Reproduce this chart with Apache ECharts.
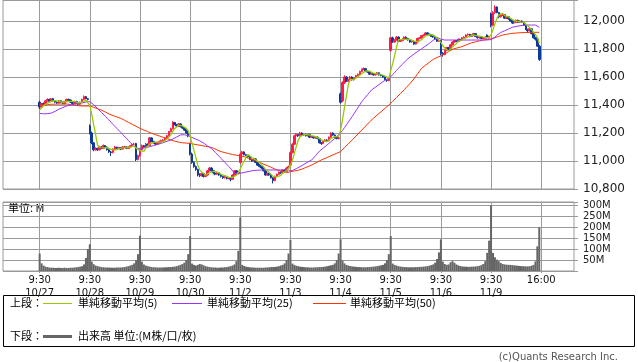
<!DOCTYPE html>
<html><head><meta charset="utf-8">
<script src="https://cdn.jsdelivr.net/npm/echarts@6/dist/echarts.min.js"></script>
<style>html,body{margin:0;padding:0;background:#fff}#c{width:638px;height:362px}</style>
</head><body><div id="c"></div>
<script>
const dayLabels = ['10/27','10/28','10/29','10/30','11/2','11/3','11/4','11/5','11/6','11/9'];
const openTimeLabel = '9:30';
const closeTimeLabel = '16:00';

const open = [
11420,11385,11410,11400,11430,11440,11425,11445,11430,11420,11415,11430,11420,11410,11425,11440,11435,11420,11410,11425,11415,11405,11420,11440,11460,11445,
11250,11200,11130,11080,11090,11080,11100,11090,11110,11100,11080,11065,11060,11085,11100,11090,11095,11085,11100,11100,11090,11100,11110,11120,11125,11010,
11040,11080,11110,11100,11120,11110,11165,11140,11130,11120,11130,11140,11145,11150,11165,11180,11210,11230,11275,11260,11250,11265,11245,11235,11220,11200,
11120,11050,10990,10960,10940,10900,10895,10910,10890,10900,10930,10950,10930,10915,10905,10915,10900,10890,10880,10890,10875,10880,10870,10900,10930,10910,
10990,11050,11065,11045,11040,11030,11010,11000,11015,10990,10970,10960,10950,10930,10900,10910,10900,10880,10860,10890,10905,10920,10915,10935,10925,10950,
10970,11060,11120,11180,11190,11180,11200,11185,11190,11180,11190,11170,11175,11165,11170,11160,11130,11125,11140,11150,11145,11170,11200,11185,11170,11160,
11480,11430,11560,11600,11570,11580,11600,11580,11595,11610,11620,11640,11655,11660,11640,11635,11620,11625,11615,11620,11630,11615,11610,11600,11580,11575,
11790,11880,11850,11865,11885,11855,11860,11870,11885,11875,11865,11850,11855,11835,11850,11875,11880,11895,11900,11915,11905,11900,11890,11885,11870,11855,
11860,11770,11760,11790,11810,11795,11830,11850,11860,11855,11870,11865,11880,11885,11900,11905,11890,11900,11910,11890,11880,11885,11875,11880,11900,11880,
12050,11970,12060,12100,12060,12030,12040,12045,12020,12030,12015,12000,11985,11990,12005,11990,12000,11990,11970,11940,11930,11945,11910,11880,11870,11820
];
const close = [
11385,11410,11400,11430,11440,11425,11445,11430,11420,11415,11430,11420,11410,11425,11440,11435,11420,11410,11425,11415,11405,11420,11440,11460,11445,11440,
11200,11130,11080,11090,11080,11100,11090,11110,11100,11080,11065,11060,11085,11100,11090,11095,11085,11100,11100,11090,11100,11110,11120,11120,11010,11040,
11080,11110,11100,11120,11110,11165,11140,11130,11120,11130,11140,11145,11150,11165,11180,11210,11230,11275,11260,11250,11265,11245,11235,11220,11200,11180,
11050,10990,10960,10940,10900,10895,10910,10890,10900,10930,10950,10930,10915,10905,10915,10900,10890,10880,10890,10875,10880,10870,10900,10930,10910,10920,
11050,11065,11045,11040,11030,11010,11000,11015,10990,10970,10960,10950,10930,10900,10910,10900,10880,10860,10890,10905,10920,10915,10935,10925,10950,10960,
11060,11120,11180,11190,11180,11200,11185,11190,11180,11190,11170,11175,11165,11170,11160,11130,11125,11140,11150,11145,11170,11200,11185,11170,11160,11165,
11420,11560,11600,11570,11580,11600,11580,11595,11610,11620,11640,11655,11660,11640,11635,11620,11625,11615,11620,11630,11615,11610,11600,11580,11575,11590,
11880,11850,11865,11885,11855,11860,11870,11885,11875,11865,11850,11855,11835,11850,11875,11880,11895,11900,11915,11905,11900,11890,11885,11870,11855,11860,
11770,11760,11790,11810,11795,11830,11850,11860,11855,11870,11865,11880,11885,11900,11905,11890,11900,11910,11890,11880,11885,11875,11880,11885,11880,11890,
11970,12060,12100,12060,12030,12040,12045,12020,12030,12015,12000,11985,11990,12005,11990,12000,11990,11970,11940,11930,11945,11910,11880,11870,11820,11725
];
const low = [
11370,11380,11395,11395,11425,11420,11420,11425,11415,11408,11410,11415,11405,11405,11420,11430,11415,11402,11405,11410,11400,11400,11415,11435,11440,11432,
11190,11120,11070,11075,11072,11075,11085,11085,11095,11075,11058,11035,11055,11080,11085,11085,11078,11082,11094,11085,11085,11096,11105,11112,11000,11005,
11030,11075,11095,11095,11105,11105,11135,11125,11112,11115,11125,11135,11140,11145,11160,11175,11205,11225,11255,11245,11245,11240,11230,11215,11195,11170,
11040,10980,10952,10930,10890,10885,10890,10882,10885,10895,10925,10925,10905,10898,10900,10895,10882,10872,10875,10868,10870,10855,10865,10895,10905,10905,
10980,11040,11040,11035,11022,11005,10995,10995,10985,10965,10955,10945,10925,10895,10895,10895,10875,10840,10855,10885,10900,10908,10910,10920,10920,10945,
10960,11055,11115,11175,11172,11175,11180,11180,11175,11175,11165,11165,11160,11160,11155,11125,11115,11120,11135,11140,11140,11165,11180,11165,11155,11155,
11410,11420,11550,11565,11565,11575,11575,11575,11590,11605,11615,11635,11650,11635,11630,11615,11615,11610,11610,11615,11610,11605,11595,11575,11565,11570,
11780,11845,11845,11860,11850,11850,11855,11865,11870,11860,11845,11845,11830,11832,11845,11870,11875,11890,11895,11900,11895,11885,11880,11865,11850,11850,
11755,11745,11755,11785,11790,11790,11825,11845,11850,11850,11860,11860,11875,11880,11895,11885,11885,11895,11885,11875,11875,11870,11870,11875,11875,11875,
11955,11962,12050,12055,12020,12025,12035,12015,12015,12010,11995,11980,11978,11985,11985,11985,11985,11965,11935,11920,11925,11905,11875,11860,11815,11715
];
const high = [
11430,11415,11418,11435,11448,11445,11450,11450,11435,11425,11435,11432,11425,11430,11445,11445,11440,11425,11430,11430,11420,11425,11445,11468,11462,11450,
11262,11210,11135,11098,11095,11108,11105,11118,11112,11104,11085,11072,11090,11108,11102,11100,11100,11106,11108,11104,11105,11115,11125,11130,11130,11045,
11085,11118,11115,11128,11125,11172,11170,11145,11135,11136,11146,11152,11156,11170,11186,11215,11238,11285,11280,11265,11270,11268,11250,11240,11225,11205,
11130,11060,10998,10968,10945,10912,10918,10915,10905,10935,10958,10955,10935,10920,10920,10920,10905,10895,10895,10892,10885,10885,10905,10935,10935,10925,
11060,11072,11070,11052,11045,11035,11018,11022,11020,10995,10978,10966,10955,10935,10918,10915,10905,10885,10895,10910,10925,10926,10940,10940,10955,10968,
11070,11128,11188,11198,11195,11208,11205,11196,11195,11196,11195,11180,11180,11175,11175,11165,11135,11145,11156,11155,11175,11205,11205,11190,11175,11170,
11490,11570,11612,11605,11588,11608,11605,11600,11615,11625,11645,11660,11668,11662,11645,11640,11630,11628,11625,11635,11632,11620,11615,11605,11585,11595,
11885,11888,11870,11892,11890,11865,11875,11890,11890,11880,11870,11860,11860,11855,11880,11885,11900,11905,11920,11920,11910,11905,11895,11890,11875,11865,
11865,11778,11795,11815,11815,11835,11855,11865,11865,11875,11872,11885,11890,11905,11910,11908,11905,11915,11912,11895,11890,11888,11885,11890,11905,11895,
12060,12070,12112,12105,12065,12048,12052,12050,12035,12035,12020,12005,11995,12010,12010,12005,12005,11995,11975,11945,11950,11948,11915,11888,11875,11830
];
// volume, millions
const volume = [
80,35,25,20,18,16,15,15,14,14,15,14,14,15,14,14,15,15,16,17,18,20,22,30,60,100,
122,43,31,25,22,20,18,17,16,16,16,15,15,15,16,16,16,17,18,20,22,25,28,35,50,77,
162,43,30,25,22,20,18,17,17,16,16,16,16,17,17,18,18,19,20,22,25,28,32,38,50,77,
160,34,28,25,28,32,30,26,22,20,18,17,16,16,15,15,16,16,17,18,20,22,25,30,45,92,
245,28,23,20,18,17,16,16,15,15,15,15,15,16,16,17,18,18,19,20,22,25,28,35,50,80,
142,34,28,24,22,20,19,18,17,17,16,16,16,17,17,18,18,19,20,22,24,26,28,35,50,80,
145,48,35,28,25,23,21,20,19,18,18,17,17,17,18,18,19,20,21,22,24,26,28,35,50,77,
160,34,28,25,22,20,19,18,18,17,17,17,17,18,18,19,19,20,21,22,24,27,30,38,55,85,
145,43,32,28,30,40,45,38,30,26,23,21,20,20,19,19,20,20,21,22,24,27,32,45,83,139,
300,83,63,52,45,37,32,30,29,28,28,27,26,25,24,23,22,22,21,21,22,24,28,44,113,200
];
const ma5 = [
11365,11380,11395,11405,11413,11421,11428,11434,11432,11427,11428,11423,11419,11420,11425,11426,11426,11428,11426,11421,11415,11415,11421,11428,11434,11441,
11397,11335,11259,11188,11116,11096,11088,11094,11096,11096,11089,11083,11078,11078,11080,11086,11091,11094,11094,11094,11095,11100,11104,11108,11092,11080,
11074,11072,11068,11090,11104,11121,11127,11133,11133,11137,11132,11133,11137,11146,11156,11170,11187,11212,11231,11245,11256,11259,11251,11243,11233,11216,
11177,11128,11076,11024,10968,10937,10921,10907,10899,10905,10916,10920,10925,10926,10923,10913,10905,10898,10895,10887,10883,10879,10883,10891,10898,10906,
10942,10975,10998,11024,11046,11038,11025,11019,11009,10997,10987,10977,10960,10942,10930,10918,10904,10890,10888,10887,10891,10898,10913,10920,10929,10937,
10966,11003,11054,11102,11146,11174,11187,11189,11187,11189,11183,11181,11176,11174,11168,11160,11150,11145,11141,11138,11146,11161,11170,11174,11177,11176,
11220,11295,11381,11463,11546,11582,11586,11585,11593,11601,11609,11624,11637,11643,11646,11642,11636,11627,11623,11622,11621,11618,11615,11607,11596,11591,
11645,11695,11752,11814,11867,11863,11867,11871,11869,11871,11869,11866,11856,11851,11853,11859,11867,11880,11893,11899,11903,11902,11899,11890,11880,11872,
11848,11823,11807,11798,11785,11797,11815,11829,11838,11853,11860,11866,11871,11880,11887,11892,11896,11901,11899,11894,11893,11888,11882,11881,11881,11882,
11901,11937,11980,12016,12044,12058,12055,12039,12033,12030,12022,12010,12004,11999,11994,11994,11995,11991,11978,11966,11955,11939,11921,11907,11885,11841
];
const ma25 = [
11340,11338,11337,11337,11338,11340,11342,11348,11355,11362,11370,11376,11382,11388,11393,11397,11400,11402,11405,11407,11410,11412,11415,11418,11421,11423,
11424,11415,11402,11390,11376,11362,11348,11334,11320,11305,11291,11277,11262,11248,11233,11219,11205,11190,11176,11162,11147,11132,11117,11102,11096,11090,
11090,11090,11092,11095,11098,11102,11106,11110,11114,11118,11122,11126,11131,11136,11140,11145,11150,11157,11164,11171,11178,11186,11188,11188,11186,11180,
11174,11168,11162,11156,11150,11144,11138,11128,11118,11108,11098,11090,11076,11062,11048,11034,11019,11005,10990,10976,10962,10948,10930,10912,10912,10912,
10912,10915,10918,10921,10924,10927,10931,10932,10933,10934,10935,10936,10936,10936,10936,10936,10936,10936,10936,10936,10936,10936,10936,10936,10936,10935,
10933,10931,10938,10945,10952,10960,10968,10976,10984,10992,11000,11007,11022,11038,11054,11070,11081,11092,11104,11115,11126,11138,11150,11162,11174,11186,
11198,11218,11238,11258,11278,11298,11317,11338,11360,11381,11402,11424,11441,11457,11474,11490,11507,11517,11527,11537,11547,11557,11567,11576,11585,11594,
11602,11617,11632,11647,11662,11676,11690,11704,11719,11733,11743,11753,11763,11773,11783,11793,11802,11812,11821,11831,11840,11851,11862,11872,11883,11876,
11870,11864,11864,11864,11864,11864,11864,11864,11864,11864,11864,11864,11864,11864,11864,11864,11864,11864,11864,11864,11864,11864,11864,11864,11865,11866,
11867,11868,11883,11898,11912,11918,11924,11930,11936,11942,11949,11955,11958,11961,11964,11966,11968,11970,11971,11971,11971,11971,11971,11971,11965,11955
];
const ma50 = [
11400,11401,11402,11403,11404,11405,11405,11406,11406,11406,11407,11407,11407,11407,11407,11405,11403,11401,11399,11397,11395,11393,11393,11393,11393,11393,
11393,11388,11383,11378,11373,11369,11364,11357,11350,11343,11336,11329,11324,11320,11315,11310,11305,11298,11291,11283,11276,11269,11262,11255,11248,11240,
11233,11227,11221,11215,11210,11204,11198,11193,11188,11184,11179,11174,11169,11164,11160,11155,11150,11146,11142,11139,11135,11131,11130,11129,11128,11127,
11126,11123,11120,11118,11115,11112,11110,11108,11105,11103,11100,11098,11092,11086,11079,11073,11067,11064,11060,11057,11053,11050,11046,11043,11041,11038,
11036,11034,11031,11026,11021,11017,11012,11007,11001,10996,10990,10984,10978,10973,10967,10961,10955,10948,10942,10936,10932,10928,10925,10921,10917,10920,
10924,10926,10929,10931,10934,10936,10942,10948,10954,10959,10965,10971,10978,10986,10993,11000,11007,11013,11019,11025,11031,11037,11043,11049,11055,11061,
11067,11081,11095,11109,11122,11136,11150,11164,11178,11193,11207,11221,11235,11250,11264,11279,11293,11305,11317,11329,11340,11352,11364,11376,11388,11400,
11412,11426,11440,11454,11467,11481,11495,11509,11524,11538,11553,11567,11586,11605,11624,11643,11662,11673,11684,11694,11705,11716,11726,11732,11739,11745,
11751,11757,11765,11773,11782,11790,11798,11802,11806,11809,11813,11817,11823,11828,11834,11839,11845,11848,11851,11855,11858,11861,11864,11866,11868,11871,
11873,11876,11881,11886,11890,11895,11900,11902,11905,11907,11910,11912,11913,11914,11915,11916,11917,11917,11918,11918,11918,11919,11919,11919,11919,11919
];

const BARS_PER_DAY = 26, PAD = 19, TOTAL = 297;
const cats = Array.from({length: TOTAL}, (_, k) => String(k));
const labelAt = {};
dayLabels.forEach((d, i) => { labelAt[PAD + i * BARS_PER_DAY] = openTimeLabel + '\n' + d; });
labelAt[PAD + dayLabels.length * BARS_PER_DAY] = closeTimeLabel;
const isTick = (idx) => labelAt[idx] !== undefined;

const candles = close.map((c, i) => [PAD + i, open[i], c, low[i], high[i]]);
const pair = (arr) => arr.map((v, i) => [PAD + i, v]);

const GRID = '#9a9a9a';
const UP = '#ff1a4a', DOWN = '#0b3a9b';
const C5 = '#99cc00', C25 = '#9933ff', C50 = '#ff3300';
const jp = '"Noto Sans CJK JP"';

const chart = echarts.init(document.getElementById('c'), null, {renderer: 'canvas'});
chart.setOption({
  animation: false,
  backgroundColor: '#fff',
  grid: [
    {left: 3, top: 0, width: 571, height: 189, show: true, borderColor: GRID, borderWidth: 1, backgroundColor: 'transparent'},
    {left: 3, top: 202, width: 571, height: 69, show: true, borderColor: GRID, borderWidth: 1, backgroundColor: 'transparent'}
  ],
  xAxis: [
    {type: 'category', gridIndex: 0, data: cats, boundaryGap: false,
     axisLine: {show: false}, axisTick: {show: false}, axisLabel: {show: false},
     splitLine: {show: true, interval: (i) => isTick(i), lineStyle: {color: GRID, width: 1}}},
    {type: 'category', gridIndex: 1, data: cats, boundaryGap: false,
     axisLine: {show: false},
     axisTick: {show: true, interval: (i) => isTick(i), length: 2, lineStyle: {color: GRID}},
     axisLabel: {show: true, interval: (i) => isTick(i), formatter: (v, i) => labelAt[i] || '',
       fontFamily: 'DejaVu Sans', fontSize: 10, color: '#111', lineHeight: 13, margin: 3},
     splitLine: {show: true, interval: (i) => isTick(i), lineStyle: {color: GRID, width: 1}}}
  ],
  yAxis: [
    {type: 'value', gridIndex: 0, position: 'right', min: 10800, max: 12150, interval: 200,
     axisLine: {show: false},
     axisTick: {show: true, length: 4, lineStyle: {color: GRID}},
     axisLabel: {margin: 9, fontFamily: 'DejaVu Sans', fontSize: 12, color: '#222',
       formatter: (v) => (v % 200 === 0 ? v.toLocaleString('en-US') : '')},
     splitLine: {show: true, lineStyle: {color: GRID, width: 1}}},
    {type: 'value', gridIndex: 1, position: 'right', min: 0, max: 316, interval: 50,
     axisLine: {show: false},
     axisTick: {show: true, length: 4, lineStyle: {color: GRID}},
     axisLabel: {margin: 9, fontFamily: 'DejaVu Sans', fontSize: 10, color: '#222',
       formatter: (v) => (v > 0 && v % 50 === 0 ? v + 'M' : '')},
     splitLine: {show: true, lineStyle: {color: GRID, width: 1}}}
  ],
  series: [
    {type: 'candlestick', xAxisIndex: 0, yAxisIndex: 0, data: candles,
     encode: {x: 0, y: [1, 2, 3, 4]}, barWidth: 2,
     itemStyle: {color: UP, color0: DOWN, borderColor: UP, borderColor0: DOWN, borderWidth: 1}, z: 2},
    {type: 'line', name: 'ma50', xAxisIndex: 0, yAxisIndex: 0, data: pair(ma50), showSymbol: false,
     lineStyle: {color: C50, width: 1}, itemStyle: {color: C50}, z: 3},
    {type: 'line', name: 'ma25', xAxisIndex: 0, yAxisIndex: 0, data: pair(ma25), showSymbol: false,
     lineStyle: {color: C25, width: 1}, itemStyle: {color: C25}, z: 4},
    {type: 'line', name: 'ma5', xAxisIndex: 0, yAxisIndex: 0, data: pair(ma5), showSymbol: false,
     lineStyle: {color: C5, width: 1.3}, itemStyle: {color: C5}, z: 5},
    {type: 'bar', xAxisIndex: 1, yAxisIndex: 1, data: pair(volume), barWidth: 2,
     itemStyle: {color: '#666'}, z: 2}
  ],
  graphic: [
    {type: 'text', x: 8, y: 208, style: {text: '単位: M', font: '11px ' + jp, fill: '#000', textVerticalAlign: 'middle'}},
    {type: 'rect', shape: {x: 3.5, y: 295.5, width: 631, height: 51}, style: {fill: 'none', stroke: '#000', lineWidth: 1}},
    {type: 'text', x: 10, y: 303, style: {text: '上段：', font: '11px ' + jp, fill: '#000', textVerticalAlign: 'middle'}},
    {type: 'line', shape: {x1: 43, y1: 303.5, x2: 72, y2: 303.5}, style: {stroke: C5, lineWidth: 1}},
    {type: 'text', x: 78, y: 303, style: {text: '単純移動平均(5)', font: '11px ' + jp, fill: '#000', textVerticalAlign: 'middle'}},
    {type: 'line', shape: {x1: 172, y1: 303.5, x2: 202, y2: 303.5}, style: {stroke: C25, lineWidth: 1}},
    {type: 'text', x: 207, y: 303, style: {text: '単純移動平均(25)', font: '11px ' + jp, fill: '#000', textVerticalAlign: 'middle'}},
    {type: 'line', shape: {x1: 313, y1: 303.5, x2: 346, y2: 303.5}, style: {stroke: C50, lineWidth: 1}},
    {type: 'text', x: 350, y: 303, style: {text: '単純移動平均(50)', font: '11px ' + jp, fill: '#000', textVerticalAlign: 'middle'}},
    {type: 'text', x: 10, y: 336, style: {text: '下段：', font: '11px ' + jp, fill: '#000', textVerticalAlign: 'middle'}},
    {type: 'line', shape: {x1: 43, y1: 336.5, x2: 72, y2: 336.5}, style: {stroke: '#666', lineWidth: 3}},
    {type: 'text', x: 78, y: 336, style: {text: '出来高 単位:(M株/口/枚)', font: '11px ' + jp, fill: '#000', textVerticalAlign: 'middle'}},
    {type: 'text', x: 618, y: 357, style: {text: '(c)Quants Research Inc.', font: '10px "DejaVu Sans"', fill: '#555', textAlign: 'right', textVerticalAlign: 'middle'}}
  ]
});
</script>
</body></html>
